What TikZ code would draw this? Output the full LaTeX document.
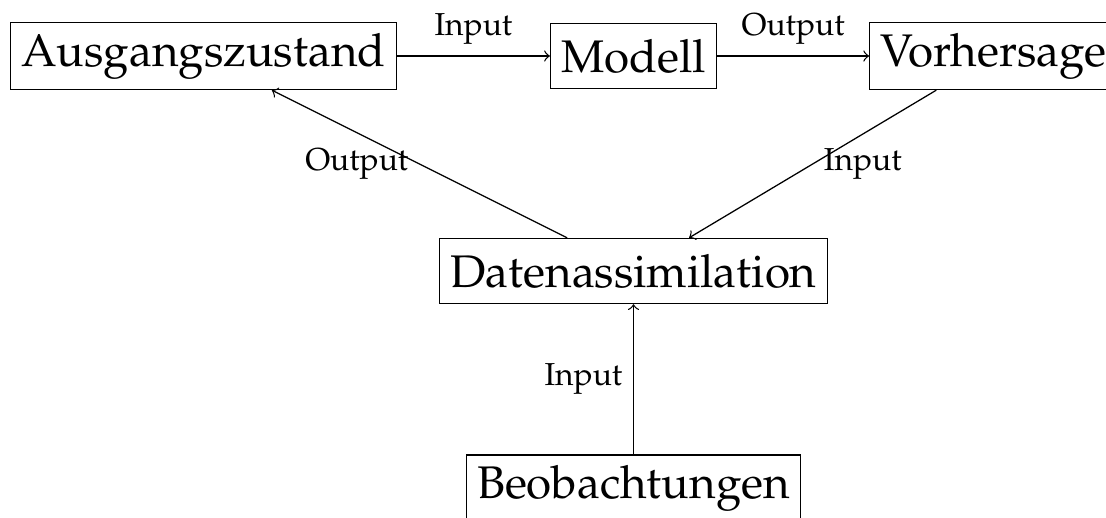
\documentclass[tikz,border=0pt]{standalone}
\usepackage[T1]{fontenc}
\usepackage{mathpazo}
\begin{document}
\begin{tikzpicture}[x=0.315pt,y=-0.315pt,>=to,
  box/.style={draw, font=\Large, inner sep=3.333pt, minimum height=20.5pt},
  lbl/.style={font=\normalsize, inner sep=3.333pt}]
\useasboundingbox (0,0) rectangle (1106,517);
\clip (0,0) rectangle (1106,517);
\node[box] (A) at (203.5,56) {Ausgangszustand};
\node[box] (M) at (633.5,56) {Modell};
\node[box] (V) at (993.5,56) {Vorhersage};
\node[box] (D) at (633.5,271) {Datenassimilation};
\node[box] (B) at (633.5,488.5) {Beobachtungen};
\draw[->] (A) -- node[lbl,above] {Input} (M);
\draw[->] (M) -- node[lbl,above] {Output} (V);
\draw[->] (D) -- node[lbl,left] {Output} (A);
\draw[->] (V) -- node[lbl,right] {Input} (D);
\draw[->] (B) -- node[lbl,left] {Input} (D);
\end{tikzpicture}
\end{document}
